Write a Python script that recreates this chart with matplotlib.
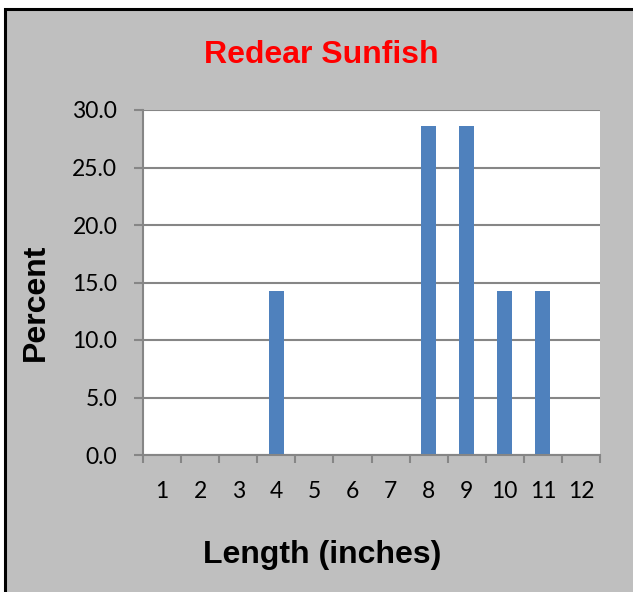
import matplotlib.pyplot as plt
from matplotlib.patches import Rectangle
from matplotlib.ticker import FormatStrFormatter

# Length-frequency data
lengths = [1, 2, 3, 4, 5, 6, 7, 8, 9, 10, 11, 12]
percent = [0, 0, 0, 14.3, 0, 0, 0, 28.6, 28.6, 14.3, 14.3, 0]
yticks = [0, 5, 10, 15, 20, 25, 30]

grid_col = '#868686'
bg_col = '#bfbfbf'

fig = plt.figure(figsize=(6.33, 5.92), dpi=100, facecolor='white')

# gray chart area with black border on left/top
fig.add_artist(Rectangle((5 / 633, -0.1), 1.2, 1.1 - 8.5 / 592,
                         transform=fig.transFigure, facecolor=bg_col,
                         edgecolor='black', linewidth=2.2, zorder=0))

ax = fig.add_axes([143 / 633, 1 - 455 / 592, (600 - 143) / 633, (455 - 110) / 592])
ax.set_facecolor('white')

ax.bar(lengths, percent, width=0.4, color='#4f81bd', zorder=3)

ax.set_xlim(0.5, 12.5)
ax.set_ylim(0, 30)
ax.set_yticks(yticks)
ax.yaxis.set_major_formatter(FormatStrFormatter('%.1f'))
ax.grid(axis='y', color=grid_col, linewidth=1.5, zorder=1)

ax.set_xticks(lengths)
ax.set_xticklabels([str(v) for v in lengths])
ax.set_xticks([v + 0.5 for v in [0] + lengths], minor=True)

font = 'Lato'
ax.tick_params(axis='x', which='major', length=0, pad=19, labelsize=16.5)
ax.tick_params(axis='x', which='minor', length=6, width=1.5, color=grid_col, direction='out')
ax.tick_params(axis='y', length=6.5, width=1.5, color=grid_col, pad=12, labelsize=16.5)
for lab in ax.get_xticklabels() + ax.get_yticklabels():
    lab.set_fontfamily(font)

for s in ['top', 'right']:
    ax.spines[s].set_visible(False)
for s in ['left', 'bottom']:
    ax.spines[s].set_color(grid_col)
    ax.spines[s].set_linewidth(1.5)
    ax.spines[s].set_zorder(4)

fig.text(321 / 633, 1 - 55 / 592, 'Redear Sunfish', color='#ff0000',
         fontsize=23, fontweight='bold', family='Liberation Sans',
         ha='center', va='center')
fig.text(322 / 633, 1 - 555 / 592, 'Length (inches)', color='black',
         fontsize=23, fontweight='bold', family='Liberation Sans',
         ha='center', va='center')
fig.text(36 / 633, 1 - 302 / 592, 'Percent', color='black', rotation=90,
         fontsize=23, fontweight='bold', family='Liberation Sans',
         ha='center', va='center')

fig.savefig('out.png', dpi=100)
